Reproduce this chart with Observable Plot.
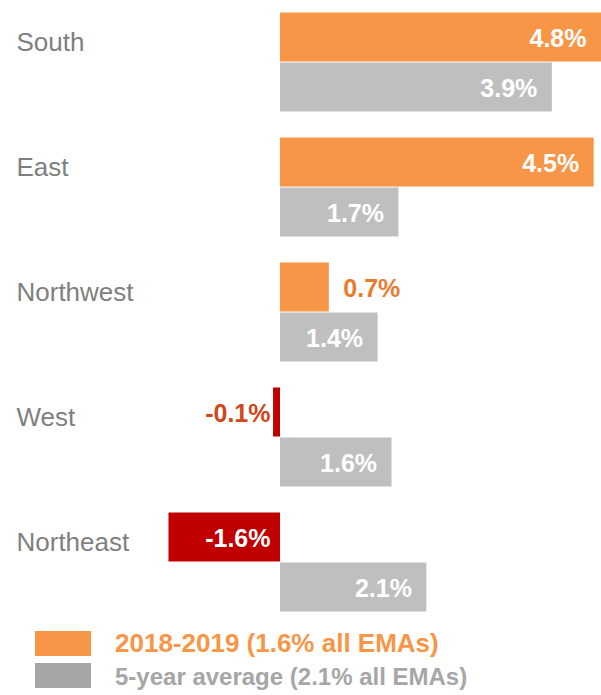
<!DOCTYPE html>
<html>
<head>
<meta charset="utf-8">
<script src="https://cdn.jsdelivr.net/npm/d3@7"></script>
<script src="https://cdn.jsdelivr.net/npm/@observablehq/plot@0.6"></script>
<style>
  html, body { margin: 0; padding: 0; background: #fff; }
  body { width: 601px; height: 695px; overflow: hidden; font-family: "Liberation Sans", Arial, sans-serif; }
  #legend { position: relative; height: 75px; }
  .sw { position: absolute; left: 35px; width: 56px; height: 25px; }
  .lt { position: absolute; left: 115px; font-weight: bold; white-space: nowrap; }
</style>
</head>
<body>
<div id="chart"></div>
<div id="legend"></div>
<script>
const regions = ["South", "East", "Northwest", "West", "Northeast"];
const current = [4.8, 4.5, 0.7, -0.1, -1.6];
const fiveYear = [3.9, 1.7, 1.4, 1.6, 2.1];
const seriesKeys = ["cur", "avg"];
const seriesNames = ["2018-2019 (1.6% all EMAs)", "5-year average (2.1% all EMAs)"];

const ORANGE = "#F79646", GREY = "#BFBFBF", RED = "#C00000";
const LABEL_GREY = "#7F7F7F", ORANGE_TEXT = "#E97B2C", RED_TEXT = "#D2461A";

const rows = [];
regions.forEach((r, i) => {
  rows.push({region: r, series: "cur", value: current[i]});
  rows.push({region: r, series: "avg", value: fiveYear[i]});
});

const pxPerUnit = 69.7;
const xMin = -280 / pxPerUnit, xMax = 321 / pxPerUnit;
const fmt = d => d.value.toFixed(1) + "%";
const barFill = d => d.series === "avg" ? GREY : (d.value < 0 ? RED : ORANGE);

const insidePos = rows.filter(d => d.value >= 1);
const outsidePos = rows.filter(d => d.value >= 0 && d.value < 1);
const insideNeg = rows.filter(d => d.value <= -1);
const outsideNeg = rows.filter(d => d.value < 0 && d.value > -1);

const chart = Plot.plot({
  width: 601,
  height: 620,
  marginTop: 12,
  marginBottom: 8,
  marginLeft: 0,
  marginRight: 0,
  style: {fontFamily: "'Liberation Sans', Arial, sans-serif", background: "#fff"},
  x: {domain: [xMin, xMax], axis: null},
  y: {domain: seriesKeys, padding: 0, axis: null},
  fy: {domain: regions, paddingInner: 0.2, paddingOuter: 0, axis: null},
  color: {type: "identity"},
  marks: [
    Plot.barX(rows, {fy: "region", y: "series", x1: 0, x2: "value", fill: barFill, insetTop: 0.5, insetBottom: 0.5}),
    Plot.text(regions, {fy: d => d, y: () => "cur", text: d => d, frameAnchor: "left", dx: 16, dy: 5,
      fill: LABEL_GREY, fontSize: 26, textAnchor: "start"}),
    Plot.text(insidePos, {fy: "region", y: "series", x: d => Math.min(d.value, xMax), text: fmt, dx: -15, dy: 1,
      textAnchor: "end", fill: "white", fontSize: 25, fontWeight: "bold"}),
    Plot.text(outsidePos, {fy: "region", y: "series", x: "value", text: fmt, dx: 14, dy: 1,
      textAnchor: "start", fill: ORANGE_TEXT, fontSize: 25, fontWeight: "bold"}),
    Plot.text(insideNeg, {fy: "region", y: "series", x: () => 0, text: fmt, dx: -10, dy: 1,
      textAnchor: "end", fill: "white", fontSize: 25, fontWeight: "bold"}),
    Plot.text(outsideNeg, {fy: "region", y: "series", x: () => 0, text: fmt, dx: -10, dy: 1,
      textAnchor: "end", fill: RED_TEXT, fontSize: 25, fontWeight: "bold"})
  ]
});
document.getElementById("chart").appendChild(chart);

const legend = document.getElementById("legend");
const legendColors = [ORANGE, "#A6A6A6"];
const legendText = [ORANGE, "#A6A6A6"];
const swTops = [11, 43];
const txTops = [10, 45];
const txSizes = [26, 24];
seriesNames.forEach((name, i) => {
  const sw = document.createElement("div");
  sw.className = "sw";
  sw.style.top = swTops[i] + "px";
  sw.style.background = legendColors[i];
  legend.appendChild(sw);
  const t = document.createElement("div");
  t.className = "lt";
  t.style.top = txTops[i] + "px";
  t.style.fontSize = txSizes[i] + "px";
  t.style.lineHeight = txSizes[i] + "px";
  t.style.color = legendText[i];
  t.textContent = name;
  legend.appendChild(t);
});
</script>
</body>
</html>
